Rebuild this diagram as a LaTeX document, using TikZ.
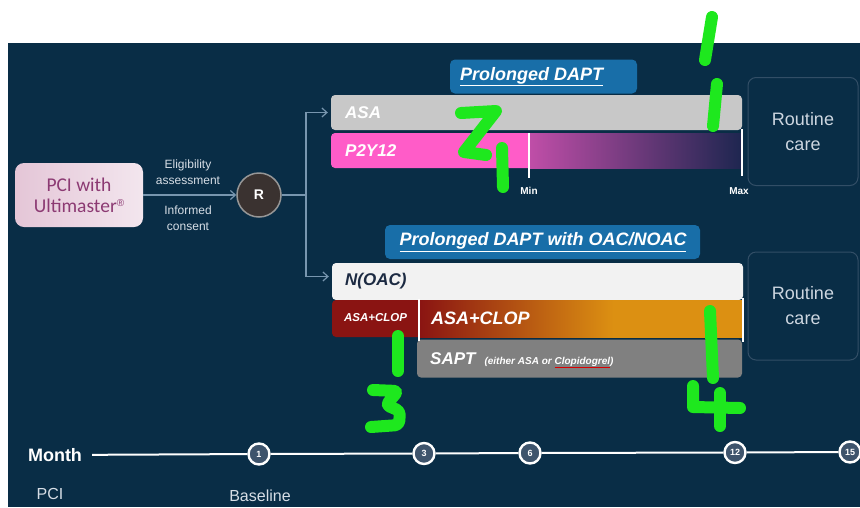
\documentclass[tikz,border=0pt]{standalone}
\usepackage{fontspec}
\setmainfont{Liberation Sans}
\newfontfamily\calfont{Carlito}
\usetikzlibrary{arrows.meta}

\definecolor{navy}{RGB}{9,45,70}
\definecolor{linkblue}{RGB}{120,150,175}
\definecolor{tabblue}{RGB}{24,110,168}
\definecolor{asagrey}{RGB}{200,200,200}
\definecolor{pinkbar}{RGB}{255,92,200}
\definecolor{magmid}{RGB}{192,78,168}
\definecolor{pyend}{RGB}{30,38,80}
\definecolor{offwhite}{RGB}{242,242,242}
\definecolor{clopred}{RGB}{138,20,18}
\definecolor{amber}{RGB}{220,144,18}
\definecolor{saptgrey}{RGB}{128,128,128}
\definecolor{careedge}{RGB}{50,78,102}
\definecolor{caretext}{RGB}{205,214,224}
\definecolor{rfill}{RGB}{58,50,48}
\definecolor{rring}{RGB}{150,150,150}
\definecolor{dotfill}{RGB}{62,84,108}
\definecolor{hand}{RGB}{30,232,30}
\definecolor{pcitext}{RGB}{140,58,115}
\definecolor{pcileft}{RGB}{228,198,215}
\definecolor{pciright}{RGB}{243,230,238}
\definecolor{lbltext}{RGB}{215,222,230}
\definecolor{noactext}{RGB}{28,42,66}

% red-to-amber ramp that levels off after about 60% of the bar
\pgfdeclarehorizontalshading{clopramp}{100bp}{color(0bp)=(clopred); color(25bp)=(clopred);
  color(55bp)=(amber); color(75bp)=(amber); color(100bp)=(amber)}

\newcommand\fsz[2]{\fontsize{#1}{#2}\selectfont}
\newcommand\redul[1]{{\color{red!85!black}\underline{\textcolor{white}{#1}}}}

\begin{document}
\begin{tikzpicture}[x=1pt,y=-1pt,
  conn/.style={draw=linkblue, line width=1.2pt},
  tip/.style={-{Straight Barb[length=5pt,width=9pt]}},
  bar/.style={rounded corners=4pt, inner sep=0pt},
  bartxt/.style={anchor=west, text=white, font=\fsz{17}{20}\bfseries\itshape, inner sep=0pt},
  tab/.style={fill=tabblue, rounded corners=5pt, inner sep=0pt},
  tabtxt/.style={text=white, font=\fsz{18}{20}\bfseries\itshape, inner sep=0pt},
  carebox/.style={draw=careedge, line width=1pt, rounded corners=8pt, fill=navy,
    minimum width=110pt, minimum height=108pt, align=center, text=caretext,
    font=\fsz{18}{25}},
  limtxt/.style={text=white, font=\fsz{10}{12}\bfseries, inner sep=0pt},
  lbl/.style={align=center, text=lbltext, font=\fsz{12}{16}, inner sep=0pt},
  tlcircle/.style={circle, fill=dotfill, draw=white, line width=2.4pt,
    minimum size=21pt, inner sep=0pt, text=white, font=\fsz{9}{10}\bfseries},
  axis line/.style={white, line width=2pt},
  axtxt/.style={text=lbltext, font=\fsz{16}{18}, inner sep=0pt},
  pen/.style={draw=hand, line width=12pt, line cap=round, line join=round},
]
\useasboundingbox (0,0) rectangle (860,507);
\fill[white] (0,0) rectangle (860,507);
\fill[navy] (8,43) rectangle (860,507);

% ---- entry: PCI box and randomisation ----
\node[rounded corners=9pt, left color=pcileft, right color=pciright,
      minimum width=128pt, minimum height=64pt, align=center, text=pcitext,
      font=\calfont\fsz{19.5}{21}] (pci) at (79,195)
      {PCI with\\Ultimaster\raisebox{6pt}{\rmfamily\fsz{10}{10}®}};
\node[circle, fill=rfill, draw=rring, line width=1.5pt, minimum size=44pt,
      inner sep=0pt, text=white, font=\fsz{14}{16}\bfseries] (R) at (259,195) {R};
\draw[conn, tip] (pci) -- (R);
\node[lbl] (elig) at (188,172.5) {Eligibility\\assessment};
\node[lbl] (cons) at (188,218) {Informed\\consent};

% ---- upper arm: prolonged DAPT ----
\node[tab, minimum width=187pt, minimum height=34pt] (tabA) at (543.5,76.5) {};
\node[tabtxt, anchor=west] (tabAtxt) at (460,76.5) {\underline{Prolonged DAPT}};

\node[bar, fill=asagrey, minimum width=411pt, minimum height=35pt] (asa) at (536.5,112.5) {};
\node[bartxt] (asatxt) at (345,112.5) {ASA};

\fill[pinkbar, rounded corners=4pt] (331,133) rectangle (540,168);
\shade[left color=magmid, right color=pyend] (529,133) rectangle (741,168);
\node[bartxt] (p2ytxt) at (345,150.5) {P2Y12};

\draw[white, line width=2pt] (529,133) -- (529,178);
\node[limtxt] (mintxt) at (529,191) {Min};
\draw[white, line width=2pt] (742,129) -- (742,176);
\node[limtxt] (maxtxt) at (739,191) {Max};

\node[carebox] (careA) at (803,131.5) {Routine\\care};

% ---- lower arm: prolonged DAPT with OAC/NOAC ----
\node[tab, minimum width=315pt, minimum height=34pt] (tabB) at (542.5,242) {};
\node[tabtxt] (tabBtxt) at (543,242) {\underline{Prolonged DAPT with OAC/NOAC}};

\node[bar, fill=offwhite, minimum width=411pt, minimum height=37pt] (noac) at (537.5,281.5) {};
\node[bartxt, text=noactext] (noactxt) at (345,281.5) {N(OAC)};

\fill[clopred, rounded corners=4pt] (332,300) rectangle (428,337);
\shade[shading=clopramp] (419,300) rectangle (743,337);
\node[text=white, font=\fsz{11.5}{13}\bfseries\itshape, inner sep=0pt] (clopA) at (375.5,318) {ASA+CLOP};
\node[bartxt, font=\fsz{18}{20}\bfseries\itshape] (clopB) at (431,318.5) {ASA+CLOP};

\node[bar, fill=saptgrey, minimum width=325pt, minimum height=38pt] (sapt) at (579.5,358.5) {};
\node[bartxt, anchor=base west] (sapttxt) at (430,364)
  {SAPT\hspace{9pt}{\fsz{10}{12}(either ASA or \redul{Clopidogrel})}};

\draw[white, line width=1.8pt] (419,299) -- (419,341);
\draw[white, line width=2pt] (743,298) -- (743,342);

\node[carebox] (careB) at (803,306) {Routine\\care};

% ---- branching from R ----
\coordinate (split) at (306,195);
\draw[conn] (R) -- (split);
\draw[conn, tip, shorten >=3pt] (split) |- (asa.west);
\draw[conn, tip, shorten >=3pt] (split) |- ([yshift=5pt]noac.west);

% ---- time axis ----
\node[text=white, font=\fsz{18}{20}\bfseries, inner sep=0pt] (month) at (55,455) {Month};
\node[tlcircle] (t1) at (259,454) {1};
\node[tlcircle] (t3) at (424,453.5) {3};
\node[tlcircle] (t6) at (530,453) {6};
\node[tlcircle] (t12) at (735,452.5) {12};
\node[tlcircle] (t15) at (850,452) {15};
\draw[axis line, shorten <=10pt] (month) -- (t1);
\draw[axis line] (t1) -- (t3);
\draw[axis line] (t3) -- (t6);
\draw[axis line] (t6) -- (t12);
\draw[axis line] (t12) -- (t15);
\node[axtxt] (pcilbl) at (50,494) {PCI};
\node[axtxt] (baselbl) at (260,496) {Baseline};

% ---- hand-drawn green marks ----
\draw[pen] (712,17) -- (705,60);
\draw[pen] (717,84) -- (713,126);
\draw[pen] (461,113) -- (496,111) -- (464,152) -- (486,155);
\draw[pen] (502,148) -- (503,187);
\draw[pen] (398,336) -- (398,371);
\draw[pen, rounded corners=4pt] (373,390) -- (398,391) -- (386,405) -- (400,411) -- (399,425) -- (371,427);
\draw[pen] (710,311) -- (713,378);
\draw[pen] (693,386) -- (693,407) -- (740,408);
\draw[pen] (720,393) -- (720,426);
\end{tikzpicture}
\end{document}
